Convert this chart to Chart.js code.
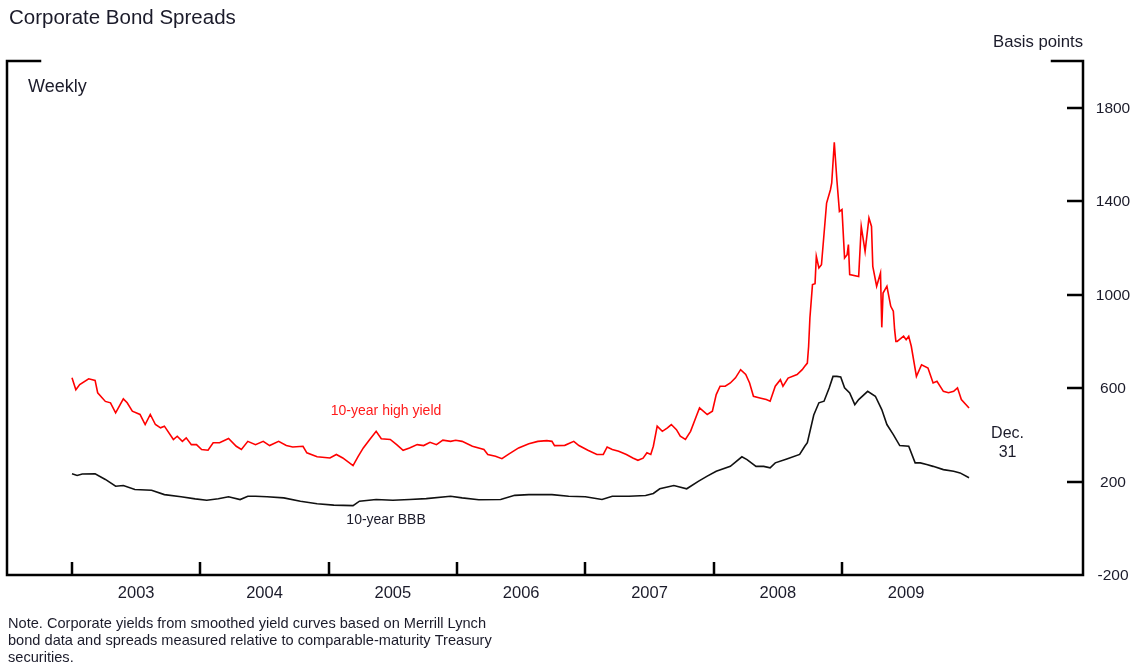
<!DOCTYPE html>
<html><head><meta charset="utf-8">
<script src="https://cdn.jsdelivr.net/npm/chart.js@4.4.1/dist/chart.umd.min.js"></script>
<style>html,body{margin:0;padding:0;background:#fff;}#wrap{width:1145px;height:668px;}</style>
</head><body><div id="wrap"><canvas id="c" width="1145" height="668"></canvas></div>
<script>
// ---- data (decimal years, basis points) ----
const hyDates = [2003.00,2003.03,2003.06,2003.13,2003.18,2003.20,2003.26,2003.30,2003.34,2003.40,2003.43,2003.47,2003.53,2003.57,2003.61,2003.65,2003.69,2003.72,2003.79,2003.82,2003.86,2003.89,2003.93,2003.97,
2004.01,2004.06,2004.10,2004.15,2004.22,2004.28,2004.32,2004.37,2004.43,2004.49,2004.54,2004.61,2004.67,2004.72,2004.80,2004.83,2004.91,
2005.01,2005.06,2005.11,2005.19,2005.23,2005.27,2005.32,2005.37,2005.41,2005.48,2005.53,2005.58,2005.63,2005.69,2005.74,2005.79,2005.84,2005.89,2005.95,2005.99,
2006.04,2006.12,2006.21,2006.24,2006.30,2006.35,2006.40,2006.48,2006.56,2006.63,2006.70,2006.74,2006.76,2006.84,2006.91,2006.95,
2007.02,2007.09,2007.14,2007.17,2007.21,2007.26,2007.32,2007.37,2007.41,2007.45,2007.48,2007.51,2007.53,2007.56,2007.60,2007.64,2007.67,2007.71,2007.74,2007.78,2007.82,2007.87,2007.89,2007.95,2007.99,
2008.02,2008.05,2008.09,2008.13,2008.17,2008.21,2008.25,2008.28,2008.31,2008.36,2008.41,2008.44,2008.48,2008.52,2008.54,2008.58,2008.65,2008.69,2008.71,2008.73,2008.74,2008.75,2008.77,2008.79,2008.80,2008.82,2008.84,2008.88,2008.91,2008.92,2008.94,2008.96,2008.98,
2009.00,2009.02,2009.04,2009.05,2009.06,2009.13,2009.15,2009.18,2009.21,2009.23,2009.24,2009.27,2009.30,2009.31,2009.32,2009.35,2009.38,2009.40,2009.41,2009.42,2009.43,2009.48,2009.50,2009.52,2009.54,2009.58,2009.62,2009.67,2009.71,2009.74,2009.79,2009.83,2009.87,2009.90,2009.93,2009.99];
const hyValues = [644,593,615,640,633,580,543,537,494,554,537,501,487,444,487,444,430,437,380,394,372,387,358,358,
337,334,366,366,384,351,337,372,358,372,354,372,354,348,351,323,306,
301,316,301,268,308,344,380,415,383,380,358,334,344,358,354,368,358,377,372,377,
372,351,337,316,308,298,316,344,362,372,375,372,354,355,372,354,
334,316,316,348,337,330,316,301,291,300,323,316,351,437,415,430,444,422,394,380,415,487,515,487,501,
572,608,608,622,644,679,658,622,565,558,551,544,608,636,608,643,658,679,693,707,779,900,1043,1047,1164,1114,1128,1392,1449,1478,1652,1492,1356,
1364,1157,1171,1214,1086,1078,1292,1185,1328,1292,1121,1036,1093,860,1007,1036,950,929,850,800,800,822,807,822,779,650,700,686,622,629,586,580,586,601,551,515];

const bbbDates = [2003.00,2003.04,2003.08,2003.18,2003.26,2003.34,2003.40,2003.49,2003.62,2003.72,2003.85,2003.96,
2004.05,2004.14,2004.22,2004.31,2004.37,2004.43,2004.52,2004.65,2004.78,2004.91,
2005.04,2005.19,2005.24,2005.37,2005.50,2005.63,2005.76,2005.95,
2006.04,2006.17,2006.34,2006.45,2006.56,2006.74,2006.87,
2007.00,2007.13,2007.21,2007.34,2007.47,2007.53,2007.58,2007.69,2007.79,2007.88,2007.95,
2008.02,2008.13,2008.22,2008.26,2008.33,2008.39,2008.44,2008.48,2008.57,2008.67,2008.71,2008.73,2008.78,2008.82,2008.86,2008.90,2008.93,2008.96,2008.99,
2009.02,2009.06,2009.10,2009.13,2009.20,2009.26,2009.31,2009.35,2009.40,2009.45,2009.52,2009.57,2009.61,2009.66,2009.71,2009.79,2009.87,2009.92,2009.99];
const bbbValues = [233,226,232,233,209,180,183,166,163,144,135,126,
120,126,135,123,137,137,135,130,116,105,
99,97,116,123,120,123,127,137,
130,122,123,141,144,144,137,
135,123,137,137,140,149,169,183,169,201,223,
244,265,306,294,265,265,259,280,297,316,351,366,485,537,544,600,650,650,648,
601,579,529,551,586,565,508,444,401,354,351,280,280,273,265,251,244,237,216];

const yearTicks = [2003,2004,2005,2006,2007,2008,2009];
const yearLabels = ['2003','2004','2005','2006','2007','2008','2009'];
const yTickValues = [-200,200,600,1000,1400,1800];

const titleText = 'Corporate Bond Spreads';
const unitText = 'Basis points';
const freqText = 'Weekly';
const hyLabel = '10-year high yield';
const bbbLabel = '10-year BBB';
const endLabel = ['Dec.','31'];
const noteLines = ['Note. Corporate yields from smoothed yield curves based on Merrill Lynch',
  'bond data and spreads measured relative to comparable-maturity Treasury',
  'securities.'];

const FONT = '"Liberation Sans", Arial, Helvetica, sans-serif';
const INK = '#1b1b2a';

function pts(xs, ys){ return xs.map((x,i)=>({x:x, y:ys[i]})); }

function txt(ctx, s, x, y, size, color, align){
  ctx.font = size + 'px ' + FONT;
  ctx.fillStyle = color;
  ctx.textAlign = align || 'left';
  ctx.textBaseline = 'middle';
  ctx.fillText(s, x, y);
}

const decor = {
  id: 'decor',
  afterDraw(chart){
    const ctx = chart.ctx, a = chart.chartArea;
    const xs = chart.scales.x, ys = chart.scales.y;
    ctx.save();
    ctx.strokeStyle = '#000';
    ctx.lineWidth = 2.5;
    ctx.lineCap = 'square';
    ctx.beginPath();
    ctx.moveTo(a.left + 33, a.top); ctx.lineTo(a.left, a.top); ctx.lineTo(a.left, a.bottom);
    ctx.lineTo(a.right, a.bottom); ctx.lineTo(a.right, a.top); ctx.lineTo(a.right - 31, a.top);
    ctx.stroke();
    ctx.lineCap = 'butt';
    ctx.beginPath();
    yearTicks.forEach(v => { const px = Math.round(xs.getPixelForValue(v)); ctx.moveTo(px, a.bottom); ctx.lineTo(px, a.bottom - 13); });
    yTickValues.forEach(v => { if (v <= ys.min) return; const py = Math.round(ys.getPixelForValue(v)); ctx.moveTo(a.right, py); ctx.lineTo(a.right - 16, py); });
    ctx.stroke();
    yTickValues.forEach(v => txt(ctx, String(v), a.right + 30, ys.getPixelForValue(v) + 1, 15.5, INK, 'center'));
    yearTicks.forEach((v,i) => txt(ctx, yearLabels[i], xs.getPixelForValue(v + 0.5), a.bottom + 18, 16.5, INK, 'center'));
    txt(ctx, titleText, 9, 18, 20.5, INK, 'left');
    txt(ctx, unitText, a.right, 42, 16.7, INK, 'right');
    txt(ctx, freqText, a.left + 21, 87, 18, INK, 'left');
    txt(ctx, hyLabel, xs.getPixelForValue(2005.447), ys.getPixelForValue(500), 14, '#ff1a1a', 'center');
    txt(ctx, bbbLabel, xs.getPixelForValue(2005.447), ys.getPixelForValue(33), 14, INK, 'center');
    txt(ctx, endLabel[0], xs.getPixelForValue(2010.29), 434, 16, INK, 'center');
    txt(ctx, endLabel[1], xs.getPixelForValue(2010.29), 453, 16, INK, 'center');
    noteLines.forEach((s,i) => txt(ctx, s, 8, 624 + i*17, 14.6, INK, 'left'));
    ctx.restore();
  }
};

new Chart(document.getElementById('c'), {
  type: 'line',
  data: { datasets: [
    { data: pts(hyDates, hyValues), borderColor: '#ff0000', borderWidth: 1.6, pointRadius: 0, tension: 0, fill: false },
    { data: pts(bbbDates, bbbValues), borderColor: '#111111', borderWidth: 1.6, pointRadius: 0, tension: 0, fill: false }
  ]},
  options: {
    responsive: false, animation: false, devicePixelRatio: 1,
    layout: { padding: { left: 7, top: 61, right: 62, bottom: 93 } },
    plugins: { legend: { display: false }, tooltip: { enabled: false } },
    scales: {
      x: { type: 'linear', min: 2002.4935, max: 2010.878, display: false },
      y: { type: 'linear', min: -200, max: 2000, display: false }
    }
  },
  plugins: [decor]
});
</script></body></html>
